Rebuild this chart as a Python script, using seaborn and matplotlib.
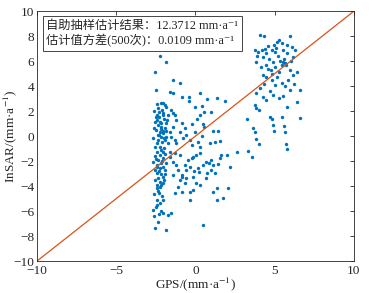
import pandas as pd
import matplotlib
matplotlib.use("Agg")
import matplotlib.pyplot as plt
import seaborn as sns

# GPS vs InSAR rates (mm/a)
gps = [
    -2.23, -1.89, -2.55, -2.51, -1.41, -0.95, -1.62, -1.45, -0.82, -0.40,
    -0.44, 0.27, 0.74, 1.33, 1.87, 0.44, 0.53, 0.95, -0.04, 0.27,
    0.11, -0.23, -0.65, 0.48, 0.53, 1.12, 1.39, 1.54, 0.40,
    -2.17, -2.04, -2.36, -1.83, -2.46, -2.51, -2.08, -2.00, -1.77, -1.52,
    -1.41, -1.31, -1.20, -2.36, -2.15, -1.94, -2.25, -2.04, -2.15, -1.83,
    -1.62, -1.41, -0.88, -0.99, -1.31, -2.67, -2.46, -2.25, -2.63, -2.57,
    -2.29, -2.21, -1.89, -1.73, -2.08, -1.94, -1.73, -1.52, -1.20, -0.78,
    -0.57, -0.36, -0.04, 0.17, 0.91, 1.22, 0.27, -0.25,
    -2.40, -2.12, -2.30, -2.02, -2.42, -2.18, -2.48, -2.30, -2.00, -2.38,
    -2.10, -2.55, -1.98, -2.20, -1.85, -2.35, -2.60, -1.95,
    -2.57, -1.89, -2.36, -2.67, -2.51, -2.29, -2.06, -1.73, -1.52, -2.25,
    -2.46, -2.04, -2.63, -2.29, -2.46, -2.25, -2.15, -2.04, -2.25, -2.36,
    -2.08, -2.46, -1.94, -2.57, -2.25, -2.04, -2.46, -2.15, -1.83, -2.67,
    -2.36, -2.04, -1.62, -2.57, -2.25, -1.94, -2.46, -2.04, -1.62, -1.31,
    -0.99, -1.41, -1.20, -1.09, -1.41, -0.88, -0.99, -0.67, -0.82, -0.57,
    -0.67, -0.46, -0.25, -0.15, 0.06, 0.27, -0.36, -0.11, 0.17, 0.23,
    0.48, 0.69, 0.86, 1.01, 1.12, 1.43, 1.54, 1.64, 1.96, 2.17,
    1.22, 0.95, 0.74, 0.65, 0.27, 0.06, -0.15, -0.57, -0.82, -0.36,
    -0.15, -0.36, -1.31, -1.09, 1.12, 1.37, 1.33, 1.71, 2.06, 0.48,
    3.54, 2.63, 3.33,
    -2.40, -2.18, -2.30, -2.10, -2.50, -2.20, -2.35, -2.00, -2.55, -2.12,
    -2.40, -2.20, -2.60, -2.40, -1.90,
    4.06, 4.34, 5.96, 3.75, 3.96, 4.48, 4.27, 4.80, 4.95, 5.12,
    5.28, 5.43, 5.07, 5.54, 5.75, 6.06, 6.27, 6.17, 3.85, 4.11,
    4.48, 4.74, 5.01, 5.43, 5.64, 5.96, 6.17, 6.38, 5.33, 4.65,
    4.27, 4.48, 4.80, 5.12, 5.01, 5.43, 5.85, 5.96, 6.59, 6.38,
    4.06, 3.85, 4.27, 4.48, 4.90, 5.28, 3.75, 3.85, 4.02, 5.75,
    4.60, 4.40, 5.20, 5.60, 5.70, 5.50, 4.90, 4.20, 3.90, 5.80,
    5.00, 4.55, 5.30, 6.00, 4.85, 5.65, 4.70, 5.50, 6.20, 4.35,
    3.22, 3.64, 3.75, 4.69, 4.80, 4.90, 5.43, 5.58, 5.64, 6.59,
    4.97, 5.70, 5.80, 3.80, 4.00,
]
insar = [
    6.40, 5.95, 5.09, 3.65, 4.48, 4.21, 3.52, 3.41, 3.15, 3.09,
    2.83, 3.41, 2.99, 3.01, 2.83, 2.40, 1.89, 1.89, 2.29, 1.68,
    1.33, 0.93, 0.61, 0.96, 0.75, 0.37, 0.43, -0.37, 0.00,
    2.67, 2.61, 2.21, 2.29, 1.68, 1.49, 1.87, 1.36, 1.28, 2.08,
    1.81, 1.68, 1.28, 0.88, 0.75, 0.61, 0.35, 0.21, -0.05, -0.05,
    0.35, 0.75, 1.01, 0.35, -0.32, -0.19, -0.59, -0.85, 0.61, 1.15,
    1.55, 1.15, 1.01, 1.68, 0.43, -0.32, -0.59, -0.05, -0.59, -0.19,
    0.08, -0.32, 0.35, -0.45, -0.59, -0.45, -0.85, -0.72,
    2.55, 2.10, 1.90, 1.65, 1.32, 1.02, 0.45, 0.10, -0.15, -0.30,
    -0.50, -0.85, -0.95, 0.60, 0.40, 0.05, 2.00, 2.45,
    -7.39, -7.52, -6.91, -5.92, -5.71, -6.27, -6.19, -6.32, -6.13, -5.39,
    -5.12, -5.12, -4.64, -4.59, -4.19, -4.11, -3.92, -3.79, -3.65, -3.39,
    -3.25, -2.99, -3.04, -2.72, -2.59, -2.45, -2.32, -2.19, -2.13, -2.05,
    -1.92, -1.79, -1.65, -1.60, -1.52, -1.44, -1.25, -1.25, -1.25, -1.39,
    -1.52, -2.05, -2.32, -2.72, -3.12, -3.25, -3.52, -3.73, -3.12, -2.72,
    -2.32, -1.92, -1.79, -1.65, -1.52, -1.39, -2.45, -2.77, -2.59, -2.85,
    -2.32, -2.05, -2.19, -1.92, -2.32, -2.24, -1.79, -1.52, -1.52, -2.45,
    -2.99, -2.72, -2.93, -3.39, -3.92, -3.79, -3.25, -3.39, -4.45, -4.45,
    -4.32, -5.12, -4.59, -4.05, -4.45, -4.19, -5.12, -4.99, -4.19, -7.12,
    -1.71, -1.25, -1.17,
    -3.90, -3.05, -2.80, -2.00, -1.80, -1.10, -4.40, -3.50, -3.55, -4.80,
    -5.50, -6.00, -6.40, -2.50, -2.70,
    8.08, 8.05, 8.05, 6.88, 6.75, 6.61, 6.35, 6.88, 7.28, 7.55,
    7.68, 7.47, 7.01, 6.88, 6.61, 7.15, 6.88, 6.35, 5.95, 5.55,
    5.68, 5.28, 5.55, 5.68, 5.81, 5.28, 4.88, 5.15, 6.00, 6.13,
    4.88, 4.75, 4.48, 4.75, 4.08, 4.27, 4.48, 3.68, 3.68, 2.75,
    3.81, 3.47, 3.15, 2.88, 3.28, 3.01, 2.48, 2.21, 2.08, 2.35,
    7.20, 7.00, 6.40, 6.20, 5.70, 5.90, 5.90, 6.90, 6.40, 7.30,
    6.70, 5.40, 5.10, 6.00, 4.95, 4.00, 3.60, 3.20, 4.20, 4.20,
    1.33, 0.67, 0.35, 1.55, 1.36, 0.88, 1.49, 0.80, 0.35, 1.41,
    0.43, -0.60, -1.00, -0.20, -0.60,
]

# 1:1 reference line
line_x = [-10, 10]
line_y = [-10, 10]

x_ticks = [-10, -5, 0, 5, 10]
y_ticks = [-10, -8, -6, -4, -2, 0, 2, 4, 6, 8, 10]

box_lines = ["自助抽样估计结果：12.3712 mm·a⁻¹",
             "估计值方差(500次)：0.0109 mm·a⁻¹"]

df = pd.DataFrame({"GPS": gps, "InSAR": insar})
ref = pd.DataFrame({"x": line_x, "y": line_y})

sns.set_style("white")
plt.rcParams["font.family"] = ["Liberation Serif", "Noto Sans CJK SC", "DejaVu Sans"]
plt.rcParams["mathtext.fontset"] = "stix"

fig = plt.figure(figsize=(3.72, 2.93), dpi=100)
ax = fig.add_axes([0.0995, 0.109, 0.852, 0.853])

sns.lineplot(data=ref, x="x", y="y", ax=ax, color="#D95319", linewidth=0.9)
sns.scatterplot(data=df, x="GPS", y="InSAR", ax=ax, color="#0072BD",
                s=6, linewidth=0, marker="o")

ax.set_xlim(-10, 10)
ax.set_ylim(-10, 10)
ax.set_xticks(x_ticks)
ax.set_yticks(y_ticks)
ax.tick_params(direction="in", top=True, right=True, length=3, pad=2,
               labelsize=9.5, colors="#262626", width=0.6)
ax.tick_params(axis="x", pad=3)
for sp in ax.spines.values():
    sp.set_color("#262626")
    sp.set_linewidth(0.6)

ax.set_xlabel("GPS/(mm·a$^{-1}$)", fontsize=9.5, labelpad=-1)
ax.set_ylabel("InSAR/(mm·a$^{-1}$)", fontsize=9.5, labelpad=-4)

ax.text(0.029, 0.966, "\n".join(box_lines), transform=ax.transAxes,
        ha="left", va="top", fontsize=8.8, linespacing=1.25,
        bbox=dict(boxstyle="square,pad=0.3", facecolor="white",
                  edgecolor="#262626", linewidth=0.6))

plt.savefig("out.png", dpi=100)
